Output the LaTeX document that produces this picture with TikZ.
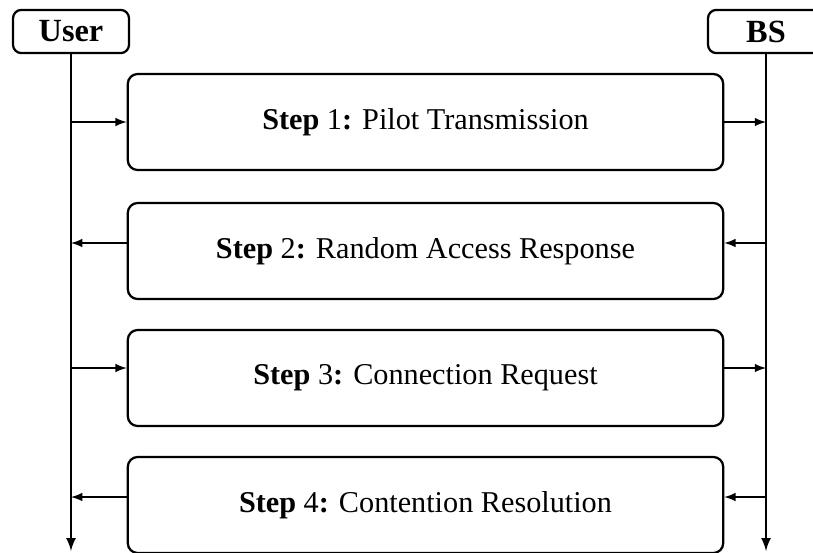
\documentclass[tikz,border=0pt]{standalone}
\usepackage{fontspec}
\setmainfont{Liberation Serif}
\usetikzlibrary{arrows}

\tikzset{
    entity/.style={draw, thick, rounded corners=3pt, minimum width=1.45cm, minimum height=0.54cm, inner sep=0pt, font=\fontsize{11.5}{13}\selectfont\bfseries},
    stepbox/.style={draw, thick, rounded corners=3.5pt, minimum width=7.44cm, minimum height=1.2cm, font=\fontsize{10.75}{12}\selectfont},
    lifeline/.style={->, semithick},
    msg/.style={->, thin}
}

\begin{document}
\begin{tikzpicture}[x=0.0125cm, y=-0.0125cm, >=latex]
    \useasboundingbox (0,0) rectangle (813,552);

    \node[entity] (user) at (71,31.5) {User};
    \node[entity] (bs) at (766,31.5) {BS};

    \node[stepbox] (s1) at (425.5,122) {\textbf{Step} 1\textbf{:} Pilot Transmission};
    \node[stepbox] (s2) at (425.5,251) {\textbf{Step} 2\textbf{:} Random Access Response};
    \node[stepbox] (s3) at (425.5,378) {\textbf{Step} 3\textbf{:} Connection Request};
    \node[stepbox] (s4) at (425.5,505) {\textbf{Step} 4\textbf{:} Contention Resolution};

    \coordinate (userend) at (71,551);
    \coordinate (bsend) at (766,551);

    \draw[lifeline] (user) -- (userend);
    \draw[lifeline] (bs) -- (bsend);

    % points on the lifelines
    \coordinate (u1) at (71,122);
    \coordinate (u2) at (71,243);
    \coordinate (u3) at (71,368);
    \coordinate (u4) at (71,497);
    \coordinate (b1) at (766,122);
    \coordinate (b2) at (766,243);
    \coordinate (b3) at (766,368);
    \coordinate (b4) at (766,497);

    \draw[msg] (u1) -- (u1 -| s1.west);
    \draw[msg] (s1.east |- b1) -- (b1);

    \draw[msg] (u2 -| s2.west) -- (u2);
    \draw[msg] (b2) -- (s2.east |- b2);

    \draw[msg] (u3) -- (u3 -| s3.west);
    \draw[msg] (s3.east |- b3) -- (b3);

    \draw[msg] (u4 -| s4.west) -- (u4);
    \draw[msg] (b4) -- (s4.east |- b4);
\end{tikzpicture}
\end{document}
